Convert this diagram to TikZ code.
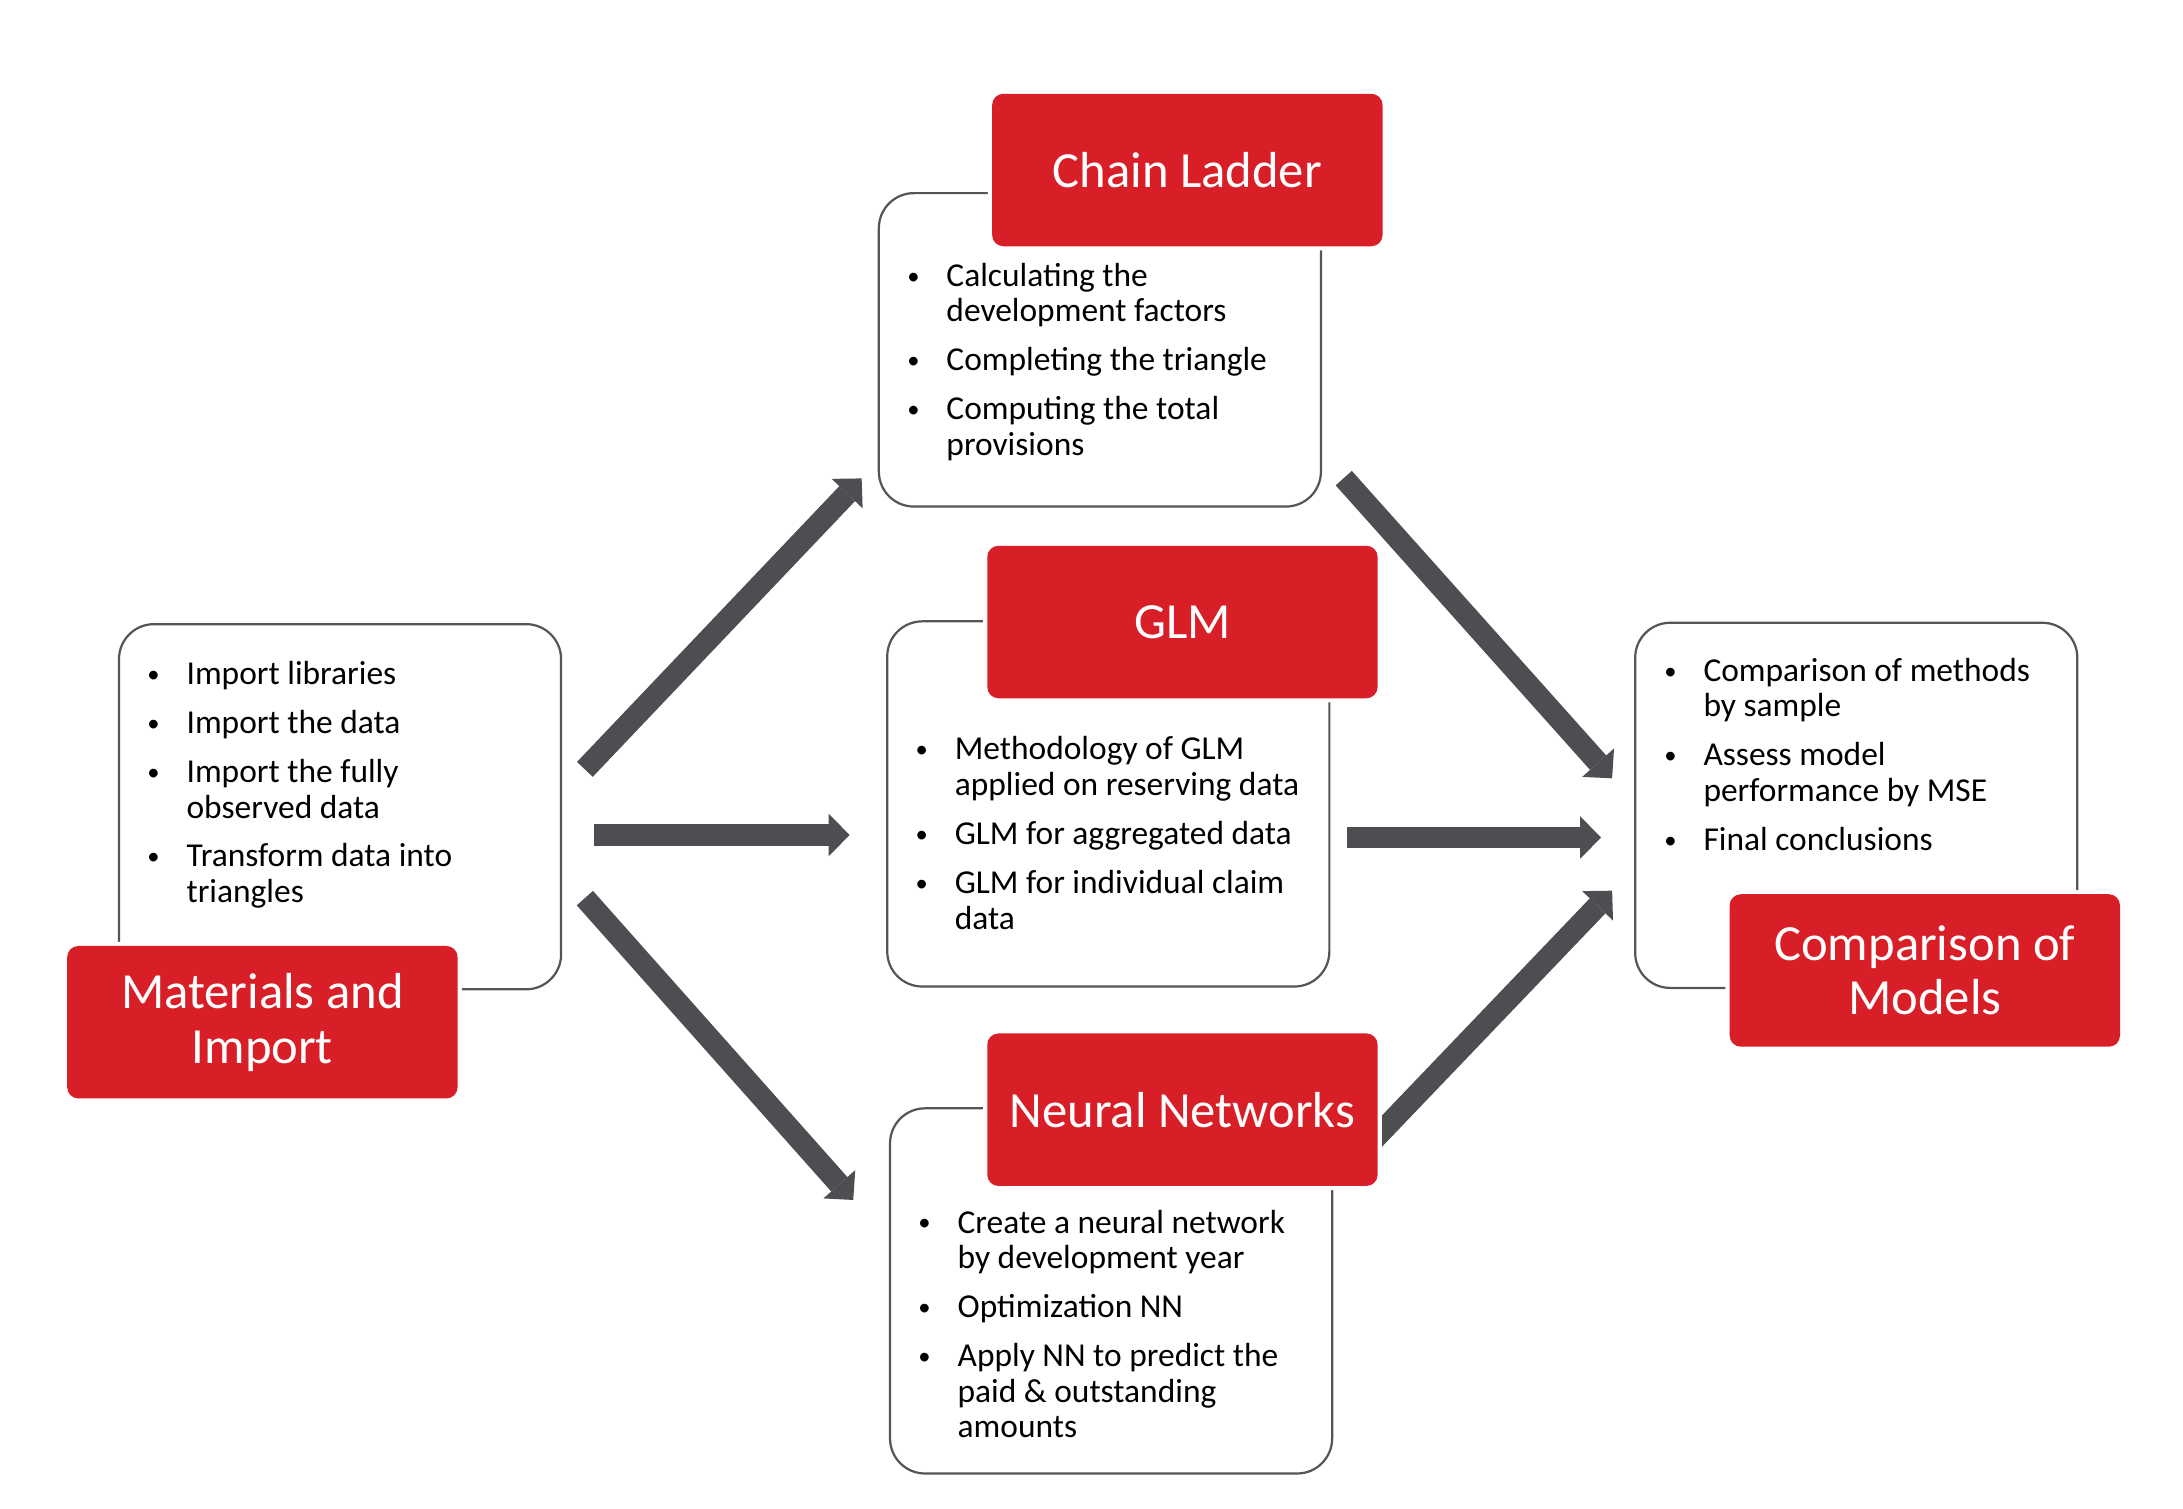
\documentclass[tikz,border=0pt]{standalone}
\usepackage{fontspec}
\setmainfont{Carlito}
\usetikzlibrary{arrows.meta}
\definecolor{headred}{RGB}{216,31,40}
\definecolor{arrowgray}{RGB}{77,78,82}
\definecolor{framegray}{RGB}{85,85,89}
\newcommand{\bul}{\makebox[0.58cm][l]{\hspace*{0.02cm}\raisebox{0.9pt}{\fontsize{10}{10}\selectfont\textbullet}}}
\newcommand{\ind}{\hspace*{0.58cm}}
\tikzset{
  panel/.style={draw=framegray, line width=0.9pt, fill=white, rounded corners=0.5cm,
    minimum width=6.32cm, minimum height=5.22cm, inner sep=0},
  head/.style={fill=headred, text=white, rounded corners=0.16cm, inner sep=0,
    minimum width=5.58cm, minimum height=2.18cm, align=center,
    preaction={draw=white, line width=0.12cm},
    font=\fontsize{20.6}{22.2}\selectfont},
  items/.style={anchor=base west, inner sep=0, align=left,
    font=\fontsize{13.6}{14.5}\selectfont},
  flow/.style={draw=arrowgray, line width=0.31cm,
    -{Triangle[width=0.61cm, length=0.3cm, line width=0pt]}}
}
\begin{document}
\begin{tikzpicture}[x=0.02cm, y=-0.02cm]
  \useasboundingbox (0,0) rectangle (1560,1078.3);
  % panels
  \node[panel] (mat) at (243,576.5) {};
  \node[panel, minimum height=4.48cm] (cl) at (786,250) {};
  \node[panel] (glm) at (792,574.5) {};
  \node[panel] (nn) at (794,922.5) {};
  \node[panel] (cmp) at (1326.5,575.5) {};
  % arrows
  \draw[flow] ([shift={(16.2,-26.7)}]mat.east) -- ([shift={(-11.5,-20.9)}]cl.south west);
  \draw[flow] ([shift={(22.8,20.2)}]mat.east) -- ([shift={(-26.1,22.2)}]glm.west);
  \draw[flow] ([shift={(16.2,65.3)}]mat.east) -- ([shift={(-25.5,-65)}]nn.west);
  \draw[flow] ([shift={(15.5,-21.1)}]cl.south east) -- ([shift={(-15.7,-19.3)}]cmp.west);
  \draw[flow] ([shift={(11.8,24)}]glm.east) -- ([shift={(-23.6,23)}]cmp.west);
  \draw[flow] ([shift={(23.6,28.8)}]nn.north east) -- ([shift={(-15.7,61)}]cmp.west);
  % headers
  \node[head] (mathead) at (187.5,730.5) {Materials and\\Import};
  \node[head] (clhead) at (848.5,121.5) {Chain Ladder};
  \node[head] (glmhead) at (845,444.5) {GLM};
  \node[head] (nnhead) at (845,793) {Neural Networks};
  \node[head] (cmphead) at (1375.5,693.5) {Comparison of\\Models};
  % bullet texts (placed at the baseline of their last line)
  \node[items] (mattext) at (104,645) {\bul Import libraries\\[0.19cm]
    \bul Import the data\\[0.19cm]
    \bul Import the fully\\ \ind observed data\\[0.19cm]
    \bul Transform data into\\ \ind triangles};
  \node[items] (cltext) at (647,325.5) {\bul Calculating the\\ \ind development factors\\[0.19cm]
    \bul Completing the triangle\\[0.19cm]
    \bul Computing the total\\ \ind provisions};
  \node[items] (glmtext) at (653,664) {\bul Methodology of GLM\\ \ind applied on reserving data\\[0.19cm]
    \bul GLM for aggregated data\\[0.19cm]
    \bul GLM for individual claim\\ \ind data};
  \node[items] (nntext) at (655,1027.6) {\bul Create a neural network\\ \ind by development year\\[0.19cm]
    \bul Optimization NN\\[0.19cm]
    \bul Apply NN to predict the\\ \ind paid \& outstanding\\ \ind amounts};
  \node[items] (cmptext) at (1188,607.7) {\bul Comparison of methods\\ \ind by sample\\[0.19cm]
    \bul Assess model\\ \ind performance by MSE\\[0.19cm]
    \bul Final conclusions};
\end{tikzpicture}
\end{document}
